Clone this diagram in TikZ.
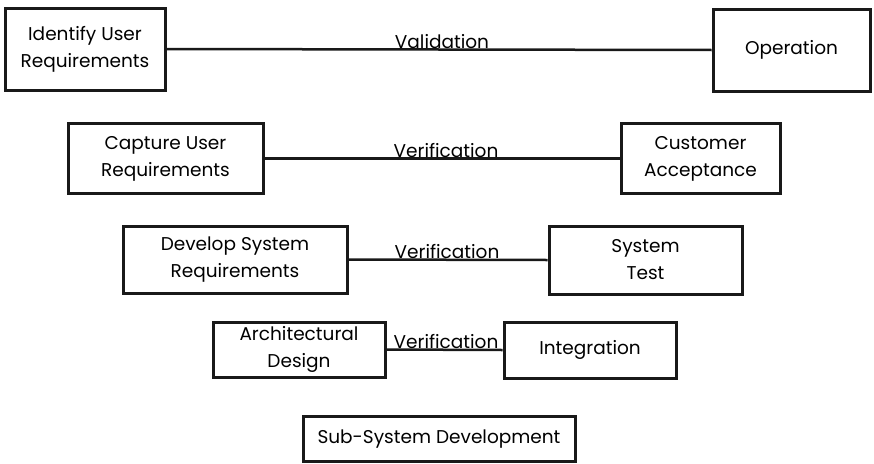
\documentclass[tikz,border=0pt]{standalone}
\usepackage{fontspec}
\setmainfont{Poppins}
\begin{document}
\begin{tikzpicture}[x=1pt,y=-1pt,
  box/.style={draw=black!90,line width=3pt,fill=white,align=center,inner sep=0pt,
    font=\fontsize{18.5}{27}\selectfont,text=black},
  conn/.style={draw=black!90,line width=2.5pt},
  lbl/.style={anchor=base,inner sep=0pt,font=\fontsize{18.5}{20}\selectfont,text=black}]
\useasboundingbox (0,0) rectangle (874,463);
\node[box,minimum width=160,minimum height=82] (iur) at (85,49) {Identify User\\Requirements};
\node[box,minimum width=157,minimum height=82] (op) at (791.5,50) {Operation};
\node[box,minimum width=195,minimum height=70] (cur) at (165.5,158.5) {Capture User\\Requirements};
\node[box,minimum width=159,minimum height=70] (ca) at (700.5,158.5) {Customer\\Acceptance};
\node[box,minimum width=224,minimum height=67] (dsr) at (235,259.5) {Develop System\\Requirements};
\node[box,minimum width=193,minimum height=68] (st) at (645.5,260) {System\\Test};
\node[box,minimum width=172,minimum height=55] (ad) at (299,349.5) {Architectural\\Design};
\node[box,minimum width=172,minimum height=56] (int) at (590,350) {Integration};
\node[box,minimum width=272,minimum height=45] (ssd) at (439,439) {Sub-System Development};
\draw[conn] (iur.east) -- (op.west);
\draw[conn] (cur.east) -- (ca.west);
\draw[conn] (dsr.east) -- (st.west);
\draw[conn] (ad.east) -- (int.west);
\node[lbl] (l1) at (442,48.5) {Validation};
\node[lbl] (l2) at (446,157.5) {Verification};
\node[lbl] (l3) at (447,258.5) {Verification};
\node[lbl] (l4) at (446,348.5) {Verification};
\end{tikzpicture}
\end{document}
